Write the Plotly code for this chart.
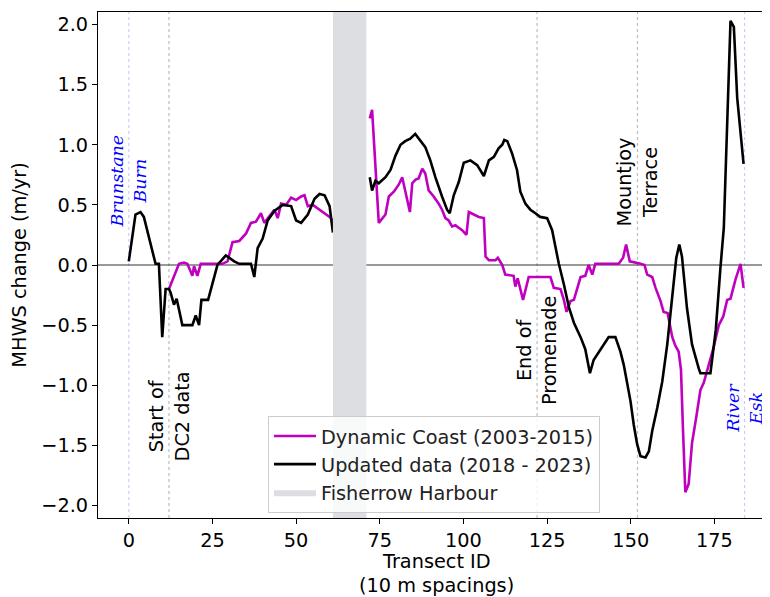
import plotly.graph_objects as go

# ---------------- data ----------------
# Dynamic Coast (2003-2015)  -- transect id / MHWS change (m/yr)
DC_X_WEST = [12, 15, 16.5, 17.5, 19, 19.5, 20.5, 21.5, 28, 29.5, 31, 33, 35, 36.5, 38,
             39.5, 40.5, 42, 43.5, 44.5, 45.5, 47, 48.5, 50, 51.5, 52.5, 53.5, 55, 56.5,
             58.5, 60, 61]
DC_Y_WEST = [-0.20, 0.01, 0.02, 0.01, -0.09, -0.01, -0.09, 0.01, 0.01, 0.03, 0.19, 0.20,
             0.26, 0.35, 0.36, 0.43, 0.35, 0.41, 0.46, 0.39, 0.51, 0.50, 0.56, 0.54, 0.57,
             0.58, 0.49, 0.50, 0.47, 0.43, 0.40, 0.37]
DC_X_EAST = [72, 72.7, 74.7, 75.7, 76.7, 77.7, 79.2, 80.7, 81.7, 84.0, 84.7, 85.7, 86.6,
             87.7, 88.6, 89.6, 91.1, 92.6, 93.6, 94.6, 95.6, 96.6, 97.6, 98.6, 99.6, 100.9,
             101.6, 103.1, 104.6, 106.1, 106.6, 107.6, 109.6, 110.3, 111.6, 112.5, 115.0,
             115.5, 116.2, 117.8, 119.5, 126.0, 127.0, 129.0, 130.0, 130.8, 132.0, 133.0,
             135.0, 136.4, 137.4, 138.5, 139.4, 146.4, 147.7, 148.6, 149.7, 152.9, 154.1,
             154.9, 156.4, 157.4, 158.9, 159.8, 161.0, 162.4, 163.3, 164.3, 165.0, 165.6,
             166.3, 167.3, 168.3, 169.6, 170.8, 171.8, 174.8, 176.3, 177.6, 178.8, 179.8,
             181.3, 182.8, 183.7]
DC_Y_EAST = [1.22, 1.29, 0.35, 0.39, 0.42, 0.57, 0.61, 0.67, 0.73, 0.44, 0.68, 0.71, 0.72,
             0.80, 0.76, 0.62, 0.57, 0.51, 0.46, 0.39, 0.37, 0.32, 0.33, 0.31, 0.29, 0.25,
             0.44, 0.42, 0.40, 0.39, 0.07, 0.04, 0.04, 0.06, 0.0, -0.08, -0.09,
             -0.18, -0.11, -0.29, -0.10, -0.10, -0.19, -0.20, -0.29, -0.39, -0.30, -0.29,
             -0.10, -0.09, 0.0, -0.08, 0.01, 0.01, 0.06, 0.17, 0.03, 0.01, 0.0,
             -0.08, -0.10, -0.19, -0.30, -0.39, -0.40, -0.60, -0.67, -0.72, -0.87, -1.37,
             -1.89, -1.82, -1.48, -1.26, -1.04, -0.98, -0.68, -0.50, -0.43, -0.29, -0.28,
             -0.12, 0.01, -0.19]

# Updated data (2018 - 2023)
UP_X_WEST = [0, 2, 3.5, 4.5, 8, 9, 10, 11, 12, 12.5, 13.5, 14.3, 15, 16, 19, 20, 21, 21.7,
             23.7, 24.7, 26.5, 29, 31.5, 33, 36.5, 37.5, 38.5, 40, 41.5, 43.5, 46, 48.5,
             50, 51.5, 53.5, 55.5, 57, 58.5, 60, 61]
UP_Y_WEST = [0.03, 0.42, 0.44, 0.40, 0.01, 0.01, -0.60, -0.20, -0.20, -0.23, -0.33, -0.28,
             -0.37, -0.50, -0.50, -0.42, -0.50, -0.29, -0.29, -0.18, 0.0, 0.08, 0.03, 0.01,
             0.01, -0.10, 0.14, 0.22, 0.37, 0.45, 0.50, 0.49, 0.37, 0.35, 0.42, 0.55, 0.59,
             0.58, 0.49, 0.27]
UP_X_EAST = [72, 72.7, 73.7, 74.7, 76.7, 78.2, 79.7, 81.2, 82.6, 84.1, 85.6, 87.1, 88.6,
             90.1, 91.6, 93.6, 95.1, 95.9, 97.1, 98.6, 100.1, 102.1, 104.1, 106.1, 107.6,
             109.1, 110.5, 111.6, 112.2, 113.1, 114.5, 116, 117, 118.5, 120, 121.5, 122.9,
             125, 126.5, 127.5, 128.5, 130, 131.5, 133, 135, 136.4, 137.1, 137.8, 138.9,
             140.4, 141.9, 143.4, 145.4, 146.9, 147.9, 148.9, 149.9, 150.9, 151.9, 152.9,
             154.4, 155.4, 156.4, 157.9, 159.4, 160.9, 162.4, 163.6, 164.5, 165.3, 166.8,
             168.3, 170.3, 170.8, 173.8, 175.4, 176.8, 177.8, 179.8, 180.8, 181.8, 182.8,
             183.7]
UP_Y_EAST = [0.73, 0.62, 0.70, 0.68, 0.73, 0.79, 0.91, 1.00, 1.03, 1.05, 1.09, 1.03, 0.98,
             0.87, 0.73, 0.57, 0.46, 0.43, 0.58, 0.69, 0.85, 0.87, 0.83, 0.74, 0.87,
             0.90, 0.97, 1.00, 1.04, 1.03, 0.93, 0.79, 0.61, 0.51, 0.46, 0.43, 0.40,
             0.39, 0.29, 0.15, 0.01, -0.16, -0.35, -0.48, -0.60, -0.70, -0.79, -0.90, -0.79,
             -0.73, -0.66, -0.60, -0.60, -0.72, -0.83, -0.99, -1.13, -1.33, -1.49, -1.59,
             -1.60, -1.55, -1.38, -1.19, -0.97, -0.66, -0.27, 0.06, 0.17, 0.07, -0.36,
             -0.66, -0.86, -0.90, -0.90, -0.54, -0.02, 0.31, 2.03, 1.98, 1.39, 1.12,
             0.84]

HARBOUR = [61, 71]                      # Fisherrow Harbour transect span
BLUE_MARKERS = [0, 184]                 # river mouths
GREY_MARKERS = [12, 122, 152]           # landmarks
X_TICKS = [0, 25, 50, 75, 100, 125, 150, 175]
Y_TICKS = [-2.0, -1.5, -1.0, -0.5, 0.0, 0.5, 1.0, 1.5, 2.0]
X_RANGE = [-9.2, 191.6]
Y_RANGE = [-2.104, 2.104]
X_TITLE = ["Transect ID", "(10 m spacings)"]

LABELS = [  # (transect, value, text, style)
    (0, 0.70, "Brunstane<br>Burn", "river"),
    (12, -1.26, "Start of<br>DC2 data", "land"),
    (122, -0.715, "End of<br>Promenade", "land"),
    (152, 0.69, "Mountjoy<br>Terrace", "land"),
    (184, -1.19, "River<br>Esk", "river"),
]

FS = 19.3
SANS = "DejaVu Sans"

fig = go.Figure()

fig.add_trace(go.Scatter(
    x=DC_X_WEST + [None] + DC_X_EAST, y=DC_Y_WEST + [None] + DC_Y_EAST,
    mode="lines", name="Dynamic Coast (2003-2015)",
    line=dict(color="#bf00bf", width=2.6)))
fig.add_trace(go.Scatter(
    x=UP_X_WEST + [None] + UP_X_EAST, y=UP_Y_WEST + [None] + UP_Y_EAST,
    mode="lines", name="Updated data (2018 - 2023)",
    line=dict(color="black", width=2.6)))
fig.add_trace(go.Scatter(
    x=[HARBOUR[0], HARBOUR[1], HARBOUR[1], HARBOUR[0], HARBOUR[0]],
    y=[Y_RANGE[0] * 2, Y_RANGE[0] * 2, Y_RANGE[1] * 2, Y_RANGE[1] * 2, Y_RANGE[0] * 2],
    mode="lines", fill="toself", fillcolor="rgb(221,222,225)",
    line=dict(width=0, color="rgb(221,222,225)"), name="Fisherrow Harbour",
    hoverinfo="skip"))

for xv in BLUE_MARKERS:
    fig.add_shape(type="line", xref="x", yref="paper", x0=xv, x1=xv, y0=0, y1=1,
                  line=dict(color="rgba(140,140,255,0.45)", width=1.2, dash="dot"),
                  layer="below")
for xv in GREY_MARKERS:
    fig.add_shape(type="line", xref="x", yref="paper", x0=xv, x1=xv, y0=0, y1=1,
                  line=dict(color="rgba(160,160,160,0.7)", width=1.2, dash="dot"),
                  layer="below")
fig.add_shape(type="line", xref="paper", yref="y", x0=0, x1=1, y0=0, y1=0,
              line=dict(color="rgba(0,0,0,0.8)", width=1), layer="below")

for xv, yv, txt, style in LABELS:
    if style == "river":
        fnt = dict(family="DejaVu Serif", size=17.5, color="blue", style="italic")
    else:
        fnt = dict(family=SANS, size=FS, color="black")
    fig.add_annotation(x=xv, y=yv, xref="x", yref="y", text=txt, showarrow=False,
                       textangle=-90, align="center", xanchor="center",
                       yanchor="middle", font=fnt)

# x-axis title: two centred lines below the tick labels
for txt, shift in zip(X_TITLE, [-43, -67]):
    fig.add_annotation(x=0.503, y=0, xref="paper", yref="paper", text=txt,
                       showarrow=False, xanchor="center", yanchor="middle",
                       yshift=shift, font=dict(family=SANS, size=FS, color="black"))

# page body adds an 8 px offset: margins compensate for it
fig.update_layout(
    width=762, height=597,
    margin=dict(l=90, r=0, t=4, b=87, autoexpand=False),
    paper_bgcolor="white", plot_bgcolor="white",
    font=dict(family=SANS, size=FS, color="black"),
    showlegend=True,
    legend=dict(x=0.253, y=0.2016, xanchor="left", yanchor="top", itemwidth=42,
                bgcolor="rgba(255,255,255,0.8)", bordercolor="#cccccc", borderwidth=1,
                font=dict(family=SANS, size=FS, color="#222")),
)
fig.update_xaxes(range=X_RANGE, tickvals=X_TICKS, ticks="outside", ticklen=5,
                 tickcolor="black", showline=True, linecolor="black", linewidth=1,
                 mirror=True, showgrid=False, zeroline=False, automargin=False)
fig.update_yaxes(range=Y_RANGE, tickvals=Y_TICKS, tickformat=".1f", ticks="outside",
                 ticklen=5, tickcolor="black", showline=True, linecolor="black",
                 linewidth=1, mirror=False, showgrid=False, zeroline=False,
                 automargin=False,
                 title=dict(text="MHWS change (m/yr)", standoff=10, font=dict(size=FS)))

fig.write_html("out.html")
